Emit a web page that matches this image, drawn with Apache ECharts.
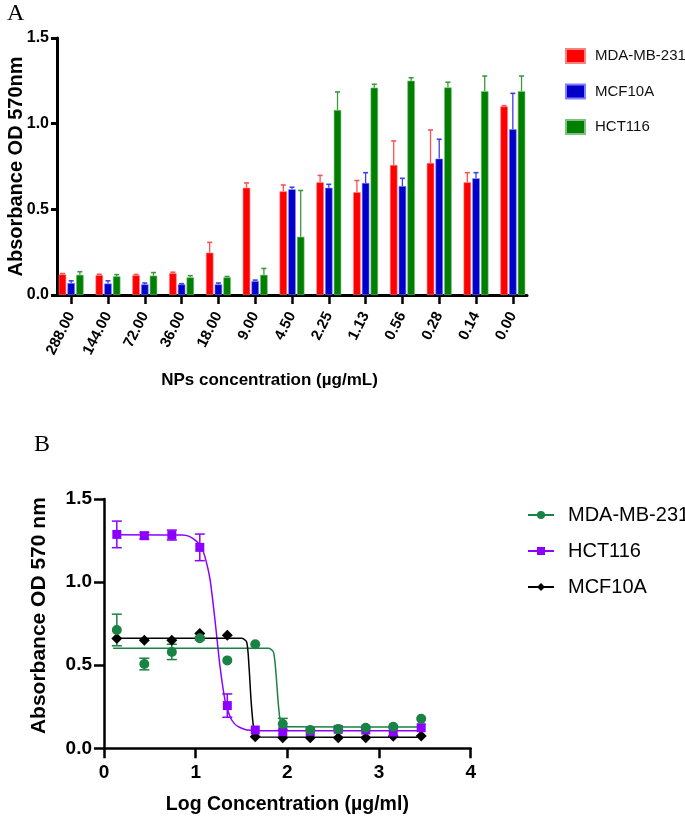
<!DOCTYPE html>
<html>
<head>
<meta charset="utf-8">
<script src="https://cdn.jsdelivr.net/npm/echarts@6/dist/echarts.min.js"></script>
<style>
html,body{margin:0;padding:0;background:#fff;}
#a{position:absolute;left:0;top:0;width:685px;height:410px;}
#b{position:absolute;left:0;top:410px;width:685px;height:406px;}
</style>
</head>
<body>
<div id="a"></div>
<div id="b"></div>
<script>
// ---------- Panel A data ----------
const catsA = ['288.00','144.00','72.00','36.00','18.00','9.00','4.50','2.25','1.13','0.56','0.28','0.14','0.00'];
const mdaA    = [0.120,0.116,0.115,0.127,0.247,0.626,0.605,0.658,0.600,0.759,0.770,0.658,1.101];
const mdaAErr = [0.005,0.005,0.005,0.006,0.060,0.028,0.037,0.040,0.068,0.140,0.193,0.056,0.004];
const mcfA    = [0.070,0.067,0.062,0.062,0.062,0.081,0.617,0.626,0.654,0.636,0.796,0.681,0.967];
const mcfAErr = [0.013,0.016,0.008,0.004,0.008,0.006,0.012,0.020,0.060,0.045,0.113,0.033,0.210];
const hctA    = [0.118,0.109,0.113,0.103,0.103,0.118,0.340,1.080,1.210,1.251,1.212,1.190,1.190];
const hctAErr = [0.018,0.010,0.018,0.010,0.005,0.037,0.270,0.105,0.020,0.017,0.030,0.088,0.088];

// ---------- Panel B data ----------
const logX = [0.14,0.44,0.74,1.045,1.345,1.65,1.95,2.25,2.555,2.855,3.155,3.46];
const mdaB    = [0.712,0.507,0.580,0.662,0.529,0.626,0.146,0.110,0.116,0.124,0.130,0.178];
const mdaBErr = [0.095,0.035,0.046,0.010,0,0,0.034,0,0,0,0,0];
const hctB    = [1.287,1.279,1.283,1.209,0.257,0.110,0.100,0.100,0.114,0.110,0.098,0.124];
const hctBErr = [0.080,0.020,0.030,0.080,0.070,0,0,0,0,0,0,0];
const mcfB    = [0.660,0.650,0.650,0.690,0.680,0.070,0.064,0.064,0.064,0.064,0.072,0.074];
// fitted curves as (log x, absorbance) vertices
const hctCurveX = [0.10,0.85,0.93,1.01,1.06,1.10,1.157,1.21,1.265,1.32,1.375,1.42,1.465,1.53,1.60,1.70,3.48];
const hctCurveY = [1.285,1.283,1.275,1.245,1.21,1.155,1.015,0.775,0.495,0.29,0.19,0.15,0.13,0.115,0.108,0.105,0.105];
const mcfCurveX = [0.10,1.50,1.556,1.582,1.604,1.626,1.648,1.702,3.48];
const mcfCurveY = [0.662,0.662,0.64,0.49,0.29,0.15,0.09,0.068,0.066];
const mdaCurveX = [0.10,1.793,1.848,1.876,1.898,1.916,1.938,1.99,3.48];
const mdaCurveY = [0.602,0.602,0.58,0.45,0.29,0.19,0.14,0.129,0.128];

const RED = '#ff0000', BLUE = '#0000c8', GREEN = '#007f00';
const PURPLE = '#8b00ff', DGREEN = '#1a8244', BLACK = '#000000';
const SANS = '"Liberation Sans",Arial,sans-serif';
const SERIF = '"Liberation Serif","Times New Roman",serif';

// ---------- Chart A ----------
const barW = 7.5, barStep = 8.7;
function errSeriesA(vals, errs, color, off) {
  return {
    type: 'custom', z: 5, silent: true,
    data: vals.map((v, i) => [i, v, errs[i]]),
    renderItem: function (params, api) {
      const p0 = api.coord([api.value(0), api.value(1)]);
      const p1 = api.coord([api.value(0), api.value(1) + api.value(2)]);
      const x = p0[0] + off;
      return { type: 'group', children: [
        { type: 'line', shape: { x1: x, y1: p0[1], x2: x, y2: p1[1] }, style: { stroke: color, lineWidth: 1.3 } },
        { type: 'line', shape: { x1: x - 2.5, y1: p1[1], x2: x + 2.5, y2: p1[1] }, style: { stroke: color, lineWidth: 1.6 } }
      ]};
    }
  };
}
const chartA = echarts.init(document.getElementById('a'));
const idx = catsA.map((c, i) => i);
chartA.setOption({
  animation: false,
  title: [{ text: 'A', left: 2, top: -3, textStyle: { fontFamily: SERIF, fontWeight: 'normal', fontSize: 24, color: '#000' } }],
  grid: { left: 57, top: 38, width: 470, height: 257, outerBoundsMode: 'none', containLabel: false },
  legend: {
    orient: 'vertical', left: 565, top: 48, padding: 0, itemWidth: 19, itemHeight: 14, itemGap: 19.5,
    icon: 'rect',
    textStyle: { fontFamily: SANS, fontSize: 15, color: '#111', padding: [0, 0, 0, 5] },
    data: ['MDA-MB-231', 'MCF10A', 'HCT116']
  },
  xAxis: {
    type: 'value', min: -0.385, max: 12.385,
    splitLine: { show: false },
    axisLine: { onZero: false, lineStyle: { color: '#000', width: 3 } },
    axisTick: { show: true, customValues: idx, length: 9, lineStyle: { color: '#000', width: 2.5 } },
    axisLabel: { customValues: idx, formatter: v => catsA[Math.round(v)], rotate: 63, margin: 18,
      fontFamily: SANS, fontWeight: 'bold', fontSize: 15, color: '#000' },
    name: 'NPs concentration (µg/mL)', nameLocation: 'middle', nameGap: 77, nameMoveOverlap: false,
    nameTextStyle: { fontFamily: SANS, fontWeight: 'bold', fontSize: 17, color: '#000', padding: [0, 45, 0, 0] }
  },
  yAxis: {
    type: 'value', min: 0, max: 1.5, interval: 0.5,
    splitLine: { show: false },
    axisLine: { show: true, onZero: false, lineStyle: { color: '#000', width: 3 } },
    axisTick: { show: true, length: 6, lineStyle: { color: '#000', width: 3 } },
    axisLabel: { formatter: v => v.toFixed(1), margin: 8, fontFamily: SANS, fontWeight: 'bold', fontSize: 16, color: '#000' },
    name: 'Absorbance OD 570nm', nameLocation: 'middle', nameGap: 31, nameMoveOverlap: false,
    nameTextStyle: { fontFamily: SANS, fontWeight: 'bold', fontSize: 20, color: '#000' }
  },
  series: [
    { name: 'MDA-MB-231', type: 'bar', barWidth: barW, barGap: '16%', itemStyle: { color: RED, borderColor: '#ff8080', borderWidth: 0.6 }, data: mdaA.map((v, i) => [i, v]) },
    { name: 'MCF10A', type: 'bar', barWidth: barW, barGap: '16%', itemStyle: { color: BLUE, borderColor: '#8080ff', borderWidth: 0.6 }, data: mcfA.map((v, i) => [i, v]) },
    { name: 'HCT116', type: 'bar', barWidth: barW, barGap: '16%', itemStyle: { color: GREEN, borderColor: '#80c080', borderWidth: 0.6 }, data: hctA.map((v, i) => [i, v]) },
    errSeriesA(mdaA, mdaAErr, '#ff5050', -barStep),
    errSeriesA(mcfA, mcfAErr, '#4040e0', 0),
    errSeriesA(hctA, hctAErr, '#3a9a3a', barStep)
  ]
});

// ---------- Chart B ----------
function errSeriesB(xs, vals, errs, color) {
  return {
    type: 'custom', z: 3, silent: true,
    data: xs.map((x, i) => [x, vals[i], errs[i]]).filter(d => d[2] > 0),
    renderItem: function (params, api) {
      const x = api.value(0), y = api.value(1), e = api.value(2);
      const pt = api.coord([x, y + e]), pb = api.coord([x, y - e]);
      const px = pt[0];
      return { type: 'group', children: [
        { type: 'line', shape: { x1: px, y1: pt[1], x2: px, y2: pb[1] }, style: { stroke: color, lineWidth: 1.5 } },
        { type: 'line', shape: { x1: px - 5, y1: pt[1], x2: px + 5, y2: pt[1] }, style: { stroke: color, lineWidth: 1.5 } },
        { type: 'line', shape: { x1: px - 5, y1: pb[1], x2: px + 5, y2: pb[1] }, style: { stroke: color, lineWidth: 1.5 } }
      ]};
    }
  };
}
function curve(name, xs, ys, color, symbol, size) {
  return { name: name, type: 'line', smooth: 0.25, symbol: symbol, symbolSize: size, showSymbol: false, z: 2,
    lineStyle: { color: color, width: 1.5 }, itemStyle: { color: color },
    data: xs.map((x, i) => [x, ys[i]]) };
}
function pts(name, xs, ys, color, symbol, size) {
  return { name: name, type: 'scatter', symbol: symbol, symbolSize: size, z: 4,
    itemStyle: { color: color, opacity: 1 }, data: xs.map((x, i) => [x, ys[i]]) };
}
const chartB = echarts.init(document.getElementById('b'));
chartB.setOption({
  animation: false,
  title: [{ text: 'B', left: 29, top: 18, textStyle: { fontFamily: SERIF, fontWeight: 'normal', fontSize: 24, color: '#000' } }],
  grid: { left: 104, top: 89, width: 366.7, height: 249.3, outerBoundsMode: 'none', containLabel: false },
  legend: {
    orient: 'vertical', left: 527, top: 95, padding: 0, itemWidth: 26, itemHeight: 10, itemGap: 16,
    textStyle: { fontFamily: SANS, fontSize: 20, color: '#000', padding: [0, 0, 0, 9] },
    data: ['MDA-MB-231', 'HCT116', 'MCF10A']
  },
  xAxis: {
    type: 'value', min: 0, max: 4, interval: 1,
    splitLine: { show: false },
    axisLine: { onZero: false, lineStyle: { color: '#000', width: 2.5 } },
    axisTick: { length: 10, lineStyle: { color: '#000', width: 2.5 } },
    axisLabel: { margin: 15, fontFamily: SANS, fontWeight: 'bold', fontSize: 19, color: '#000' },
    name: 'Log Concentration (µg/ml)', nameLocation: 'middle', nameGap: 46, nameMoveOverlap: false,
    nameTextStyle: { fontFamily: SANS, fontWeight: 'bold', fontSize: 19.5, color: '#000' }
  },
  yAxis: {
    type: 'value', min: 0, max: 1.5, interval: 0.5,
    splitLine: { show: false },
    axisLine: { show: true, onZero: false, lineStyle: { color: '#000', width: 2.5 } },
    axisTick: { show: true, length: 10, lineStyle: { color: '#000', width: 2.5 } },
    axisLabel: { formatter: v => v.toFixed(1), margin: 12, fontFamily: SANS, fontWeight: 'bold', fontSize: 19, color: '#000' },
    name: 'Absorbance OD 570 nm', nameLocation: 'middle', nameGap: 54, nameMoveOverlap: false,
    nameTextStyle: { fontFamily: SANS, fontWeight: 'bold', fontSize: 21, color: '#000', padding: [0, 0, 0, 16] }
  },
  series: [
    curve('MDA-MB-231', mdaCurveX, mdaCurveY, DGREEN, 'circle', 10),
    curve('HCT116', hctCurveX, hctCurveY, PURPLE, 'rect', 10),
    curve('MCF10A', mcfCurveX, mcfCurveY, BLACK, 'diamond', 11),
    errSeriesB(logX, hctB, hctBErr, PURPLE),
    errSeriesB(logX, mdaB, mdaBErr, DGREEN),
    pts('MCF10A', logX, mcfB, BLACK, 'diamond', 11),
    pts('HCT116', logX, hctB, PURPLE, 'rect', 9),
    pts('MDA-MB-231', logX, mdaB, DGREEN, 'circle', 10)
  ]
});
</script>
</body>
</html>
